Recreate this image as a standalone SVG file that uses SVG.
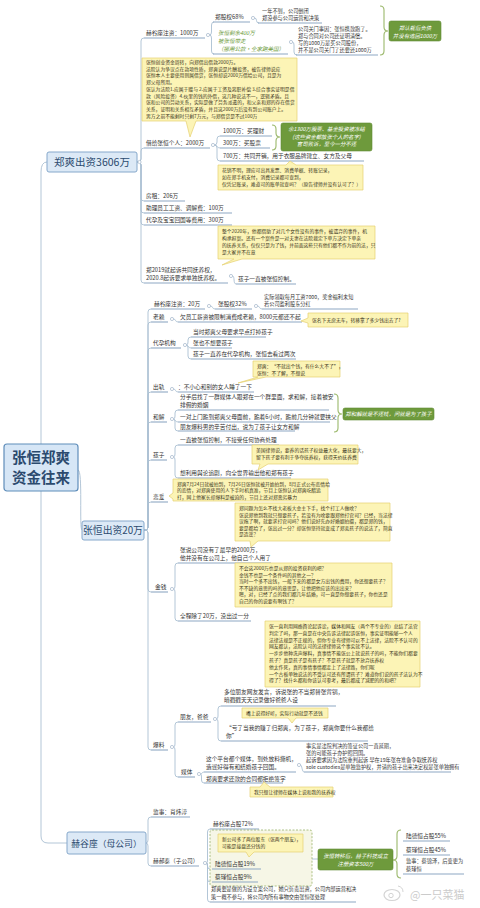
<svg xmlns="http://www.w3.org/2000/svg" width="480" height="908" viewBox="0 0 480 908">
<style>
text{font-family:"Noto Sans CJK SC","Noto Sans",sans-serif;fill:#333}
.t{font-size:5.7px}
.s{font-size:5.2px}
.nt{font-size:4.8px;fill:#3a3520}
.gt{font-size:5.4px;fill:#fff;font-style:italic}
.gi{font-size:5.5px;fill:#6b9a38;font-style:italic}
.ul{stroke:#8ea8c3;stroke-width:1.1;fill:none}
.cn{stroke:#aabfd3;stroke-width:0.9;fill:none}
.note{fill:#fcf4b6;stroke:#e5d070;stroke-width:0.7;stroke-linejoin:round}
.gb{fill:#6e9a3c;stroke:#5f8a32;stroke-width:0.6}
.br{stroke:#9bb86b;stroke-width:1.1;fill:none}
.dot{fill:#fff;stroke:#a3b6ca;stroke-width:0.7}
.mb{fill:#dce9f6;stroke:#86a8cb;stroke-width:1}
.mt{fill:#2b4a6e}
.bd{fill:#f6f6e6;stroke:#9bb36a;stroke-width:0.8;stroke-dasharray:2 1.5}
</style>

<g id="connectors">
<path class="cn" d="M41 444 V172 Q41 162 47 162"/>
<path class="cn" d="M41 491 V836 Q41 843 48 843 H67"/>
<path class="cn" d="M78 470 C83 470 79 530 82 530"/>
<path class="cn" d="M137 162 H138 Q141 162 141 159 V41 Q141 38 144 38"/>
<path class="cn" d="M137 162 H138 Q141 162 141 159 V151 Q141 148 144 148"/>
<path class="cn" d="M137 162 H138 Q141 162 141 165 V198 Q141 201 144 201"/>
<path class="cn" d="M137 162 H138 Q141 162 141 165 V210 Q141 213 144 213"/>
<path class="cn" d="M137 162 H138 Q141 162 141 165 V222 Q141 225 144 225"/>
<path class="cn" d="M137 162 H138 Q141 162 141 165 V280 Q141 283 144 283"/>
<path class="cn" d="M209.5 35 Q211.5 35 211.5 32 V25 Q211.5 22 214 22"/>
<path class="cn" d="M209.5 35 Q211.5 35 211.5 38 V51 Q211.5 54 214 54"/>
<path class="cn" d="M254.5 18 Q256.5 18 256.5 20.5 Q256.5 23 259 23"/>
<path class="cn" d="M292.5 42 Q294 42 294 45 V52 Q294 55 297 55"/>
<path class="cn" d="M214.5 145 Q217 145 217 142 V139 Q217 136 220 136"/>
<path class="cn" d="M214.5 145 C217 145 217 148 220 148"/>
<path class="cn" d="M214.5 145 Q217 145 217 148 V158 Q217 161 220 161"/>
<path class="cn" d="M232.5 276 C235 276 233 284 236 284"/>
<path class="cn" d="M144 530 H145 Q148 530 148 527 V312 Q148 309 151 309"/>
<path class="cn" d="M144 530 H145 Q148 530 148 527 V325 Q148 322 151 322"/>
<path class="cn" d="M144 530 H145 Q148 530 148 527 V351 Q148 348 151 348"/>
<path class="cn" d="M144 530 H145 Q148 530 148 527 V395 Q148 392 151 392"/>
<path class="cn" d="M144 530 H145 Q148 530 148 527 V425 Q148 422 151 422"/>
<path class="cn" d="M144 530 H145 Q148 530 148 527 V463 Q148 460 151 460"/>
<path class="cn" d="M144 530 H145 Q148 530 148 527 V505 Q148 502 151 502"/>
<path class="cn" d="M144 530 H145 Q148 530 148 533 V589 Q148 592 151 592"/>
<path class="cn" d="M144 530 H145 Q148 530 148 533 V747 Q148 750 151 750"/>
<path class="cn" d="M210.5 306 C213 306 212 309 215 309"/>
<path class="cn" d="M257.5 306 C260 306 259 309 262 309"/>
<path class="cn" d="M173.5 319 C176 319 175 322 178 322"/>
<path class="cn" d="M186.5 345 Q188 345 188 342 V340 Q188 337 191 337"/>
<path class="cn" d="M186.5 345 C188 345 188 348 191 348"/>
<path class="cn" d="M186.5 345 Q188 345 188 348 V356 Q188 359 191 359"/>
<path class="cn" d="M173.5 389 C176 389 175 392 178 392"/>
<path class="cn" d="M173.5 419 Q175 419 175 416 V413 Q175 410 178 410"/>
<path class="cn" d="M173.5 419 C175 419 175 422 178 422"/>
<path class="cn" d="M173.5 419 Q175 419 175 422 V428 Q175 431 178 431"/>
<path class="cn" d="M173.5 457 Q175 457 175 454 V448 Q175 445 178 445"/>
<path class="cn" d="M173.5 457 Q175 457 175 460 V475 Q175 478 178 478"/>
<path class="cn" d="M173.5 589 Q175 589 175 586 V566 Q175 563 178 563"/>
<path class="cn" d="M173.5 589 Q175 589 175 592 V618 Q175 621 178 621"/>
<path class="cn" d="M173.5 747 Q175 747 175 744 V725 Q175 722 178 722"/>
<path class="cn" d="M173.5 747 Q175 747 175 750 V774 Q175 777 178 777"/>
<path class="cn" d="M216.5 719 Q218 719 218 716 V709 Q218 706 221 706"/>
<path class="cn" d="M216.5 719 Q218 719 218 722 V738 Q218 741 221 741"/>
<path class="cn" d="M200.5 774 C202 774 202 772 204 772"/>
<path class="cn" d="M200.5 774 Q201.5 774 201.5 777 V780 Q201.5 783 204 783"/>
<path class="cn" d="M300.5 765 C302 765 302 772 304 772"/>
<path class="cn" d="M146 843 Q148 843 148 840 V820 Q148 817 151 817"/>
<path class="cn" d="M146 843 Q148 843 148 846 V863 Q148 866 151 866"/>
<path class="cn" d="M206.5 863 Q207.5 863 207.5 860 V832 Q207.5 829 210 829"/>
<path class="cn" d="M206.5 863 Q207.5 863 207.5 866 Q207.5 869 210 869"/>
<path class="cn" d="M206.5 863 Q207.5 863 207.5 866 V879 Q207.5 882 210 882"/>
<path class="cn" d="M206.5 863 Q207.5 863 207.5 866 V899 Q207.5 902 210 902"/>
<path class="cn" d="M312 859 H318"/>
<path class="br" d="M380 6 Q384 6 384 10 V27 Q384 31 388 31 Q384 31 384 35 V51 Q384 55 380 55"/>
<path class="br" d="M272 125 Q276 125 276 129 V133 Q276 137 280 137 Q276 137 276 141 V146 Q276 150 272 150"/>
<path class="br" d="M334 394 Q338 394 338 398 V410 Q338 414 342 414 Q338 414 338 418 V428 Q338 432 334 432"/>
<path class="br" d="M401 830 Q397 830 397 834 V856 Q397 860 393 860 Q397 860 397 864 V874 Q397 878 401 878"/>
</g>

<g id="root">
<rect x="4" y="444" width="74" height="47" rx="3" fill="#d6e6f6" stroke="#5f8dba" stroke-width="1.2"/>
<text class="mt" x="41" y="463" text-anchor="middle" font-size="14.5" font-weight="bold">张恒郑爽</text>
<text class="mt" x="41" y="483" text-anchor="middle" font-size="14.5" font-weight="bold">资金往来</text>
</g>

<g id="b1">
<rect class="mb" x="47" y="152" width="90" height="20" rx="2"/>
<text class="mt" x="92" y="166" text-anchor="middle" font-size="10.5">郑爽出资3606万</text>
<circle class="dot" cx="139.5" cy="162" r="1.6"/>
</g>
<g id="b1-1">
<text class="t" x="146" y="35">赫谷座注资：1000万</text>
<path class="ul" d="M144 38 H205"/>
<circle class="dot" cx="208" cy="35" r="1.6"/>
</g>
<g id="b1-1-1">
<text class="t" x="215" y="19">郑股权68%</text>
<path class="ul" d="M213 22 H250"/>
<circle class="dot" cx="253" cy="18" r="1.6"/>
</g>
<g id="b1-1-1-1">
<text class="s" x="262" y="13">一年不到，公司倒闭</text>
<text class="s" x="262" y="20">郑没参与公司运营和决策</text>
<path class="ul" d="M258 23 H322"/>
</g>
<g id="b1-1-2">
<text class="gi" x="218" y="35">张恒剩余400万</text>
<text class="gi" x="218" y="43">被张恒带走</text>
<text class="gi" x="218" y="50.5">（挪用公款·全家跑美国）</text>
<path class="ul" d="M213 54 H288"/>
<circle class="dot" cx="291" cy="42" r="1.6"/>
</g>
<g id="b1-1-2-1">
<text class="s" x="298" y="31">公司关门事因：张恒携款跑了。</text>
<text class="s" x="298" y="38">郑与合同对公司还证明清偿。</text>
<text class="s" x="298" y="45">写的1000万是买公司股份，</text>
<text class="s" x="298" y="52">并不是公司关门了还要还1000万</text>
<path class="ul" d="M296 55 H378"/>
</g>
<g id="g1">
<rect class="gb" x="389" y="21" width="52" height="20" rx="2"/>
<text class="gt" x="415" y="29.5" text-anchor="middle">郑认栽后负债</text>
<text class="gt" x="415" y="37.5" text-anchor="middle">并没有追回1000万</text>
</g>
<g id="note1">
<path class="note" d="M142 58 H297 V121 H196 L190 137 L186 121 H142 Z"/>
<text class="nt" x="146" y="64">张恒创业资金周转，向郑借出借款2000万。</text>
<text class="nt" x="146" y="70.7">法院认为争议点在款项性质，郑爽说是片酬投资，被告律师说应</text>
<text class="nt" x="146" y="77.4">张恒本人主要使用则属借贷，张恒却说2000万借给公司，且是为</text>
<text class="nt" x="146" y="84.1">郑父母所用。</text>
<text class="nt" x="146" y="90.8">张认为法院1.应属于赠与 2.应属于工资及离职补偿 3.综合事实证明是借</text>
<text class="nt" x="146" y="97.5">款（风险投资）4.伙里的钱的外借，这几种说法不一，逻辑矛盾。且</text>
<text class="nt" x="146" y="104.2">张和公司的劳动关系，实际是做了劳务派遣的，和父亲和郑的存在借贷</text>
<text class="nt" x="146" y="110.9">关系，证明和关系相互矛盾，并且这2000万后没有到公司账户上。</text>
<text class="nt" x="146" y="117.6">男方之前不能剩时只剩7万元，与郑借贷是不过100万</text>
</g>
<g id="b1-2">
<text class="t" x="146" y="145">借给张恒个人：2000万</text>
<path class="ul" d="M144 148 H210"/>
<circle class="dot" cx="213" cy="145" r="1.6"/>
</g>
<g id="b1-2-1">
<text class="t" x="223" y="133">1000万：买理财</text>
<path class="ul" d="M220 136 H272"/>
</g>
<g id="b1-2-2">
<text class="t" x="223" y="145">300万：买股票</text>
<path class="ul" d="M220 148 H270"/>
</g>
<g id="b1-2-3">
<text class="t" x="223" y="158">700万：共同开销，用于衣服品牌建立、女方及父母</text>
<path class="ul" d="M220 161 H364"/>
</g>
<g id="g2">
<rect class="gb" x="281" y="123" width="91" height="28" rx="2"/>
<text class="gt" x="326.5" y="131" text-anchor="middle">余1300万股票、基金投资被冻结</text>
<text class="gt" x="326.5" y="138.5" text-anchor="middle">(这些资金都放张个人的名字)</text>
<text class="gt" x="326.5" y="146" text-anchor="middle">官司败诉，至今一分不还</text>
</g>
<g id="note2">
<path class="note" d="M218 165 H286 L290 161 L296 165 H363 V190 H218 Z"/>
<text class="nt" x="222" y="172">花销不明，理应可出具发票、消费单据、转账记录，</text>
<text class="nt" x="222" y="179">如在郑手机支付，消费记录都可查到，</text>
<text class="nt" x="222" y="186">仅凭记账录，难道可的账单就查吗？（原告律师并没有认可了？）</text>
</g>
<g id="b1-3">
<text class="t" x="146" y="198">房租：206万</text>
<path class="ul" d="M144 201 H185"/>
</g>
<g id="b1-4">
<text class="t" x="146" y="210">助理员工工资、调解费：100万</text>
<path class="ul" d="M144 213 H232"/>
</g>
<g id="b1-5">
<text class="t" x="146" y="222">代孕及宝宝回国等费用：300万</text>
<path class="ul" d="M144 225 H232"/>
</g>
<g id="note3">
<path class="note" d="M218 226 H375 V259 H242 L222 265 L234 259 H218 Z"/>
<text class="nt" x="222" y="233">整个2020年，他都借助了对几个女性没有的事件，被遗弃的事件，机</text>
<text class="nt" x="222" y="240">构承担案。还有一个案件是一对夫妻在法院裁定下单方决定下单亲</text>
<text class="nt" x="222" y="247">的抚养关系，仅仅只是为了钱，并前面这些只有他们都不作为前的法，只</text>
<text class="nt" x="222" y="254">是大家并不在意</text>
</g>
<g id="b1-6">
<text class="t" x="146" y="271.5">郑2019就起诉共同抚养权，</text>
<text class="t" x="146" y="280">2020.8起诉要求单独抚养权。</text>
<path class="ul" d="M144 283 H228"/>
<circle class="dot" cx="231" cy="276" r="1.6"/>
</g>
<g id="b1-6-1">
<text class="t" x="238" y="281">孩子一直被张恒控制。</text>
<path class="ul" d="M236 284 H296"/>
</g>

<g id="b2">
<rect class="mb" x="82" y="521" width="62" height="19" rx="2"/>
<text class="mt" x="113" y="534" text-anchor="middle" font-size="9.8">张恒出资20万</text>
</g>
<g id="b2-1">
<text class="t" x="154" y="306">赫谷座注资：20万</text>
<path class="ul" d="M151 309 H205"/>
<circle class="dot" cx="209" cy="306" r="1.6"/>
</g>
<g id="b2-1-1">
<text class="t" x="218" y="306">张股权32%</text>
<path class="ul" d="M215 309 H252"/>
<circle class="dot" cx="256" cy="306" r="1.6"/>
</g>
<g id="b2-1-1-1">
<text class="s" x="264" y="298.5">实际领取每月工资7000，奖金福利未知</text>
<text class="s" x="264" y="306">若公司盈利股东分红</text>
<path class="ul" d="M262 309 H358"/>
</g>
<g id="b2-2">
<text class="t" x="153" y="319">老赖</text>
<path class="ul" d="M151 322 H168"/>
<circle class="dot" cx="172" cy="319" r="1.6"/>
</g>
<g id="b2-2-1">
<text class="t" x="180" y="319">欠员工薪资被限制消费成老赖，8000元都还不起</text>
<path class="ul" d="M178 322 H302"/>
</g>
<g id="note4">
<path class="note" d="M308 313 H408 V327 H308 V323 L301 321 L308 318 Z"/>
<text class="nt" x="312" y="322">张名下无房无车，转移拿了多少钱出去了?</text>
</g>
<g id="b2-3">
<text class="t" x="153" y="345">代孕机构</text>
<path class="ul" d="M151 348 H181"/>
<circle class="dot" cx="185" cy="345" r="1.6"/>
</g>
<g id="b2-3-1">
<text class="t" x="193" y="334">当时郑爽父母要求早点打掉孩子</text>
<path class="ul" d="M191 337 H266"/>
</g>
<g id="b2-3-2">
<text class="t" x="193" y="345">张也不想要孩子</text>
<path class="ul" d="M191 348 H232"/>
</g>
<g id="b2-3-3">
<text class="t" x="193" y="356">孩子一直养在代孕机构，张恒去看过两次</text>
<path class="ul" d="M191 359 H296"/>
</g>
<g id="note5">
<path class="note" d="M253 361 H340 V377 H266 L238 383 L258 377 H253 Z"/>
<text class="nt" x="257" y="368">郑爽：“不就出个钱，有什么大不了”，</text>
<text class="nt" x="257" y="374.5">张恒：不了解，不想说</text>
</g>
<g id="b2-4">
<text class="t" x="153" y="389">出轨</text>
<path class="ul" d="M151 392 H168"/>
<circle class="dot" cx="172" cy="389" r="1.6"/>
</g>
<g id="b2-4-1">
<text class="t" x="178" y="389">：不小心和别的女人睡了一下</text>
<path class="ul" d="M178 392 H254"/>
</g>
<g id="b2-5">
<text class="t" x="153" y="419">和解</text>
<path class="ul" d="M151 422 H167"/>
<circle class="dot" cx="172" cy="419" r="1.6"/>
</g>
<g id="b2-5-1">
<text class="t" x="180" y="398.5">分手后找了一群媒体人跟郑在一个群里面，求和解，接着被安</text>
<text class="t" x="180" y="407.2">排假的婚姻</text>
<path class="ul" d="M178 410 H329"/>
</g>
<g id="b2-5-2">
<text class="t" x="180" y="419">一对上门跪到郑爽父母面前，跪着6小时，跪前几分钟就要挟父</text>
<path class="ul" d="M178 422 H330"/>
</g>
<g id="b2-5-3">
<text class="t" x="180" y="428.5">朋友爆料男的辛苦付出，说为了孩子让女方和解</text>
<path class="ul" d="M178 431 H295"/>
</g>
<g id="g3">
<rect class="gb" x="343" y="408" width="91" height="12" rx="2"/>
<text class="gt" x="388.5" y="416" text-anchor="middle" font-size="5.2">郑和解就是不还钱，问就是为了孩子</text>
</g>
<g id="b2-6">
<text class="t" x="153" y="457">孩子</text>
<path class="ul" d="M151 460 H167"/>
<circle class="dot" cx="172" cy="457" r="1.6"/>
</g>
<g id="b2-6-1">
<text class="t" x="180" y="442">一直被张恒控制，不接受任何协商处理</text>
<path class="ul" d="M178 445 H279"/>
</g>
<g id="note6">
<path class="note" d="M252 445 H358 V464 H268 L258 470 L260 464 H252 Z"/>
<text class="nt" x="256" y="452">美国律师说，要养的话孩子权益最大化，最抚要大，</text>
<text class="nt" x="256" y="459">留下孩子要有利于争夺抚养权，获得天价抚养费</text>
</g>
<g id="b2-6-2">
<text class="t" x="180" y="475">想利用舆论追剧，向全世界输出他和郑有孩子</text>
<path class="ul" d="M178 478 H291"/>
</g>
<g id="note7">
<path class="note" d="M173 479 H328 V501 H173 V499 L169 496 L173 493 Z"/>
<text class="nt" x="177" y="485.5">郑爽7月24日就被拍到，7月26日张恒就被开始拍到，8月正式公布恋情给</text>
<text class="nt" x="177" y="492">的恋情，对郑爽使用的人下手时机真准，节目上张恒认对郑爽吃醋追</text>
<text class="nt" x="177" y="498.5">打，网上他家长却爆料是被迫的，节目上还对郑恶劣暴力</text>
</g>
<g id="b2-7">
<text class="t" x="153" y="499">恋爱</text>
<path class="ul" d="M151 502 H168"/>
</g>
<g id="note8">
<path class="note" d="M235 503 H390 V541 H258 L251 547 L250 541 H235 Z"/>
<text class="nt" x="239" y="510">郑问题为怎么不找大老板大金主下手，找个打工人做啥？</text>
<text class="nt" x="239" y="516.6">张说郑他到我就只想要孩子，若没有为啥要跟郑他打官司？已经，当法律</text>
<text class="nt" x="239" y="523.2">议拖了啊，就要求打官司吗？他们说好先办好婚姻拍摄，都是郑的钱，</text>
<text class="nt" x="239" y="529.8">要是都给了，张出过一分？却张恒坚持就变成了郑卖孩子的说法了，简直</text>
<text class="nt" x="239" y="536.4">是造谣？</text>
</g>
<g id="b2-8">
<text class="t" x="155" y="589">金钱</text>
<path class="ul" d="M151 592 H168"/>
<circle class="dot" cx="172" cy="589" r="1.6"/>
</g>
<g id="b2-8-1">
<text class="t" x="180" y="551.5">张说公司没有了最早的2000万，</text>
<text class="t" x="180" y="560">他并没有在公司上，他自己个人用了</text>
<path class="ul" d="M178 563 H271"/>
</g>
<g id="note9">
<path class="note" d="M235 563 H392 V607 H235 Z"/>
<text class="nt" x="239" y="570">不会这2000万也是从郑的投资获利的吧？</text>
<text class="nt" x="239" y="576.6">金钱不也是一个条件吗的其他之一？</text>
<text class="nt" x="239" y="583.2">当时一个多不出钱，一般下来的都是女方出钱的费用，你还想要孩子？</text>
<text class="nt" x="239" y="589.8">不不缺的意思的吗的意思是，让他把他应该的出出来？</text>
<text class="nt" x="239" y="596.4">嗯，对，已经了点的我们都几年结婚，可一直是你想要孩子，你也还是</text>
<text class="nt" x="239" y="603">自己的你的说要有啊钱了？</text>
</g>
<g id="b2-8-2">
<text class="t" x="180" y="618">全程除了20万，没出过一分</text>
<path class="ul" d="M178 621 H251"/>
</g>
<g id="note10">
<path class="note" d="M265 621 H420 V687 H265 Z"/>
<text class="nt" x="269" y="628">张一直利用网络舆论起诉讼，媒体和网友（两个不专业的）总结了法官</text>
<text class="nt" x="269" y="634.8">判定了吗，那一直是在中央告诉法律起诉张恒，事实证明能够一个人</text>
<text class="nt" x="269" y="641.6">法律法规是不正规的，但你专业有律师可以不上法律，法院不予认可的</text>
<text class="nt" x="269" y="648.4">网友都认，法院认可的法律律师这个事实就不认。</text>
<text class="nt" x="269" y="655.2">一步步他种洗声爆料，真事情不能张公上就说孩子的吗，不能你们都要</text>
<text class="nt" x="269" y="662">孩子？真是孩子是有孩子？不是孩子就是不放弃抚养权</text>
<text class="nt" x="269" y="668.8">他太作死，真的事情事情都走上了法律路，你们呢</text>
<text class="nt" x="269" y="675.6">一个古板单独说法的不受认可还有所谓孩子？难道你们说的孩子法认为不</text>
<text class="nt" x="269" y="682.4">得了？找什么都和你该认可参考，最后都成了减肥的的和吧？</text>
</g>
<g id="b2-9">
<text class="t" x="153" y="747">爆料</text>
<path class="ul" d="M151 750 H168"/>
<circle class="dot" cx="172" cy="747" r="1.6"/>
</g>
<g id="b2-9-1">
<text class="t" x="180" y="719">朋友，爸爸</text>
<path class="ul" d="M178 722 H211"/>
<circle class="dot" cx="215" cy="719" r="1.6"/>
</g>
<g id="b2-9-1-1">
<text class="t" x="224" y="693.5">多位朋友网友发言，诉说张的不当郑替张背锅，</text>
<text class="t" x="224" y="702">暗戳戳天天记录做好爸爸人设</text>
<path class="ul" d="M221 706 H336"/>
</g>
<g id="note11">
<path class="note" d="M242 708 H328 V718 H296 L292 723 L288 718 H242 Z"/>
<text class="nt" x="246" y="715">嘴上说得好听，实际行动就是不还钱</text>
</g>
<g id="b2-9-1-2">
<text class="t" x="226" y="729.5">“亏了当我的赚了归郑爽，为了孩子，郑爽你要什么我都给</text>
<text class="t" x="226" y="738">你”</text>
<path class="ul" d="M221 741 H368"/>
</g>
<g id="b2-9-2">
<text class="t" x="181" y="774">媒体</text>
<path class="ul" d="M178 777 H195"/>
<circle class="dot" cx="199" cy="774" r="1.6"/>
</g>
<g id="b2-9-2-1">
<text class="t" x="206" y="760.5">这个平台都个媒体，到处放料撕机，</text>
<text class="t" x="206" y="769.2">造谣好得有和结婚孩子回国。</text>
<path class="ul" d="M204 772 H296"/>
<circle class="dot" cx="299" cy="765" r="1.6"/>
</g>
<g id="b2-9-2-1-1">
<text class="s" x="306" y="748">事实是法院判决的签证公司一直延期，</text>
<text class="s" x="306" y="755">张的可能孩子办护照回国。</text>
<text class="s" x="306" y="762">起诉要求因为法院重判起诉 早在19年张在准备争取抚养权</text>
<text class="s" x="306" y="769">sole custodies是单独监护权，并请的孩子出来决定权是张单独拥有</text>
<path class="ul" d="M304 772 H451"/>
</g>
<g id="b2-9-2-2">
<text class="t" x="206" y="780.5">郑爽要求还款的合同都拒绝签字</text>
<path class="ul" d="M204 783 H283"/>
</g>
<g id="note12">
<path class="note" d="M250 787 H260 L264 782 L270 787 H333 V797 H250 Z"/>
<text class="nt" x="254" y="794">我只想让律师在媒体上说和我的抚养权</text>
</g>

<g id="b3">
<rect class="mb" x="67" y="832" width="79" height="22" rx="2"/>
<text class="mt" x="106.5" y="846.5" text-anchor="middle" font-size="8.8">赫谷座（母公司）</text>
</g>
<g id="b3-1">
<text class="t" x="153" y="814">监事：肖炜淳</text>
<path class="ul" d="M151 817 H190"/>
</g>
<g id="b3-2">
<text class="t" x="153" y="863">赫郝泰（子公司）</text>
<path class="ul" d="M151 866 H199"/>
<circle class="dot" cx="205" cy="863" r="1.6"/>
</g>
<g id="b3-2-1">
<text class="t" x="213" y="826">赫谷座占股72%</text>
<path class="ul" d="M210 829 H259"/>
</g>
<g id="boundary">
<rect class="bd" x="210" y="830" width="102" height="56" rx="2"/>
</g>
<g id="note13">
<path class="note" d="M218 834 H303 V852 H254 L249 857 L246 852 H218 Z"/>
<text class="nt" x="222" y="841">新公司多了两位股东（张两个朋友），</text>
<text class="nt" x="222" y="848">可能是接盘还分钱的</text>
</g>
<g id="b3-2-2">
<text class="t" x="215" y="866">陆德恒占股19%</text>
<path class="ul" d="M212 869 H261"/>
</g>
<g id="b3-2-3">
<text class="t" x="215" y="879">蔡瑾恒占股9%</text>
<path class="ul" d="M212 882 H258"/>
</g>
<g id="g4">
<rect class="gb" x="318" y="849" width="75" height="21" rx="2"/>
<text class="gt" x="355.5" y="857.5" text-anchor="middle" font-size="5.3">张恒转移后，赫子科技成立</text>
<text class="gt" x="355.5" y="865.5" text-anchor="middle" font-size="5.3">注册资本500万</text>
</g>
<g id="g4-1">
<text class="t" x="406" y="838">陆德恒占股55%</text>
<path class="ul" d="M403 841 H450"/>
</g>
<g id="g4-2">
<text class="t" x="406" y="852">蔡瑾恒占股45%</text>
<path class="ul" d="M403 855 H450"/>
</g>
<g id="g4-3">
<text class="s" x="406" y="863">监事：蔡锦泽，后变更为</text>
<text class="s" x="406" y="871">蔡瑾恒</text>
<path class="ul" d="M403 874 H464"/>
</g>
<g id="b3-2-4">
<text class="s" x="211" y="891">郑爽要是做的为设立案公司，她只负责出资，公司内部运营和决</text>
<text class="s" x="211" y="899">策一概不参与，将公司内所有事物交由张恒张处理</text>
<path class="ul" d="M210 902 H356"/>
</g>

<g id="watermark" opacity="0.5">
<ellipse cx="392" cy="895" rx="8" ry="5.5" fill="none" stroke="#aaa" stroke-width="1.2"/>
<circle cx="391" cy="895.5" r="2.2" fill="none" stroke="#aaa" stroke-width="1"/>
<path d="M398 886 Q403 887 403 892" fill="none" stroke="#aaa" stroke-width="1"/>
<text x="410" y="899" font-size="11" style="fill:#999">@一只菜猫</text>
</g>
</svg>
